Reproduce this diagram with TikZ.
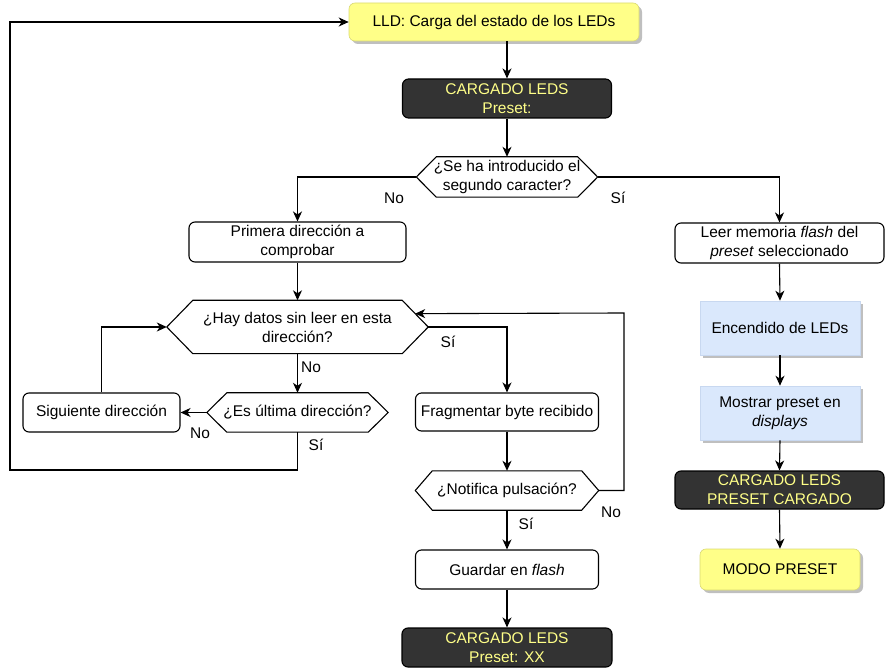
\documentclass[tikz,border=0pt]{standalone}
\usepackage{fontspec}
\setmainfont{Liberation Sans}
\usetikzlibrary{arrows.meta,shadows,calc}
\definecolor{noteyellow}{HTML}{FFFF88}
\definecolor{darkbox}{HTML}{333333}
\definecolor{lightblue}{HTML}{DAE8FC}
\definecolor{blueedge}{HTML}{C8D8F0}
\tikzset{
  base/.style={align=center, inner sep=0pt, font=\fontsize{15.5}{19}\selectfont},
  plain/.style={base, draw=black, fill=white, rounded corners=6pt, line width=1.1pt},
  darkstate/.style={base, draw=black, fill=darkbox, text=noteyellow, rounded corners=6pt, line width=1.1pt},
  yellowbox/.style={base, draw=noteyellow!85!black, fill=noteyellow, rounded corners=6pt, line width=0.6pt,
     drop shadow={shadow xshift=3pt, shadow yshift=-3pt, fill=black, opacity=0.25}},
  bluebox/.style={base, draw=blueedge, fill=lightblue, line width=0.6pt,
     drop shadow={shadow xshift=3pt, shadow yshift=-3pt, fill=black, opacity=0.25}},
  hexnode/.style={base},
  hexline/.style={draw=black, fill=white, line width=1.1pt, line join=miter},
  arr/.style={draw=black, line width=1.1pt, -{Stealth[length=10pt,width=9pt,inset=3pt]}},
  lbl/.style={font=\fontsize{15.5}{19}\selectfont, inner sep=0pt},
}
\newcommand\hexshape[2]{%
  \path[hexline] (#1.west) -- ([xshift=#2]#1.north west) -- ([xshift=-#2]#1.north east)
    -- (#1.east) -- ([xshift=-#2]#1.south east) -- ([xshift=#2]#1.south west) -- cycle;}
\begin{document}
\begin{tikzpicture}[x=1pt,y=-1pt]
\useasboundingbox (0,0) rectangle (887,668);

% nodes
\node[yellowbox, minimum width=290pt, minimum height=38pt] (LLD) at (494,22) {LLD: Carga del estado de los LEDs};
\node[darkstate, minimum width=209pt, minimum height=39pt] (CL1) at (507,98.5) {CARGADO LEDS\\Preset:};

\node[hexnode, minimum width=181pt, minimum height=40pt] (Se) at (507,177) {};
\hexshape{Se}{20pt}
\node[base] at (Se) {¿Se ha introducido el\\segundo caracter?};

\node[plain, minimum width=217pt, minimum height=40pt] (Pri) at (297.5,242) {Primera dirección a\\comprobar};
\node[plain, minimum width=209pt, minimum height=40pt] (Leer) at (779.5,243) {Leer memoria \textit{flash} del\\\textit{preset} seleccionado};

\node[hexnode, minimum width=261pt, minimum height=53pt] (Hay) at (297.5,327) {};
\hexshape{Hay}{26pt}
\node[base] at (Hay) {¿Hay datos sin leer en esta\\dirección?};

\node[hexnode, minimum width=181pt, minimum height=39pt] (Es) at (297.5,412.5) {};
\hexshape{Es}{20pt}
\node[base] at (Es) {¿Es última dirección?};

\node[plain, minimum width=157pt, minimum height=39pt] (Sig) at (101.5,412.5) {Siguiente dirección};
\node[plain, minimum width=183pt, minimum height=38pt] (Frag) at (507,412) {Fragmentar byte recibido};

\node[hexnode, minimum width=183pt, minimum height=39pt] (Not) at (507,490.5) {};
\hexshape{Not}{17pt}
\node[base] at (Not) {¿Notifica pulsación?};

\node[plain, minimum width=183pt, minimum height=39pt] (Gua) at (507,569.5) {Guardar en \textit{flash}};
\node[darkstate, minimum width=210pt, minimum height=39pt] (CL2) at (507,647.5) {CARGADO LEDS\\Preset: XX};

\node[bluebox, minimum width=160pt, minimum height=54pt] (Enc) at (780,328) {Encendido de LEDs};
\node[bluebox, minimum width=160pt, minimum height=54pt] (Mos) at (780,413) {Mostrar preset en\\\textit{displays}};
\node[darkstate, minimum width=209pt, minimum height=38pt] (CL3) at (779.5,490) {CARGADO LEDS\\PRESET CARGADO};
\node[yellowbox, minimum width=160pt, minimum height=41pt] (Modo) at (780,569.5) {MODO PRESET};

% helper coordinates
\coordinate (lb) at (10,470);
\coordinate (rx) at (624,313);
\coordinate (hayin) at ($(Hay.east)!0.5!([xshift=-26pt]Hay.north east)$);

% connectors
\draw[arr] (LLD.south -| CL1.north) -- (CL1.north);
\draw[arr] (CL1.south) -- (Se.north);
\draw[arr] (Se.west) -| (Pri.north);
\draw[arr] (Se.east) -| (Leer.north);
\draw[arr] (Pri.south) -- (Hay.north);
\draw[arr] (Hay.east) -| (Frag.north);
\draw[arr] (Hay.south) -- (Es.north);
\draw[arr] (Es.west) -- (Sig.east);
\draw[arr] (Sig.north) |- (Hay.west);
\draw[arr] (Es.south) |- (lb) |- (LLD.west);
\draw[arr] (Frag.south) -- (Not.north);
\draw[arr] (Not.east) -| (rx) -- (hayin);
\draw[arr] (Not.south) -- (Gua.north);
\draw[arr] (Gua.south) -- (CL2.north);
\draw[arr] (Leer.south) -- (Enc.north);
\draw[arr] (Enc.south) -- (Mos.north);
\draw[arr] (Mos.south) -- (CL3.north);
\draw[arr] (CL3.south) -- (Modo.north);

% labels
\node[lbl] (l1) at (394,198) {No};
\node[lbl] (l2) at (618,198) {Sí};
\node[lbl] (l3) at (448,342) {Sí};
\node[lbl] (l4) at (311,367) {No};
\node[lbl] (l5) at (200,433) {No};
\node[lbl] (l6) at (316,445) {Sí};
\node[lbl] (l7) at (611,512) {No};
\node[lbl] (l8) at (526,524) {Sí};
\end{tikzpicture}
\end{document}
